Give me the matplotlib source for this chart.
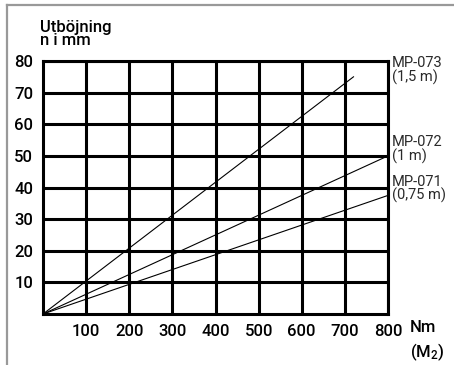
import matplotlib
matplotlib.use("Agg")
import matplotlib.pyplot as plt
from matplotlib.lines import Line2D

# Data
x_ticks = [100, 200, 300, 400, 500, 600, 700, 800]
y_ticks = [10, 20, 30, 40, 50, 60, 70, 80]
series_names = ["MP-073\n(1,5 m)", "MP-072\n(1 m)", "MP-071\n(0,75 m)"]
end_moment = [720, 800, 800]      # Nm
end_deflection = [75, 50, 37.5]   # mm

plt.rcParams["font.family"] = ["Roboto", "DejaVu Sans"]
plt.rcParams["mathtext.default"] = "regular"
plt.rcParams["mathtext.fontset"] = "custom"
plt.rcParams["mathtext.rm"] = "Roboto:medium"

fig = plt.figure(figsize=(4.54, 3.65), dpi=100)
ax = fig.add_axes([43 / 454, 51 / 365, 345 / 454, 253 / 365])

for name, mx, dy in zip(series_names, end_moment, end_deflection):
    ax.plot([0, mx], [0, dy], color="black", linewidth=0.8, zorder=3)
    ax.annotate(name, xy=(1.0, dy + 2), xycoords=("axes fraction", "data"),
                xytext=(3, 0), textcoords="offset points", ha="left", va="center",
                fontsize=10.5, color="#2a2a2a", linespacing=0.9,
                annotation_clip=False)

ax.set_xlim(0, 800)
ax.set_ylim(0, 80)
ax.set_xticks(x_ticks)
ax.set_xticklabels([str(v) for v in x_ticks], fontweight="medium", fontsize=12)
ax.set_yticks(y_ticks)
ax.set_yticklabels([str(v) for v in y_ticks], fontweight="medium", fontsize=12)
ax.tick_params(length=0, pad=7, colors="black")
ax.grid(True, color="black", linewidth=2.2)
for sp in ax.spines.values():
    sp.set_linewidth(2.2)
    sp.set_color("black")

fig.text(40 / 454, 1 - 34 / 365, "Utböjning\nn i mm", ha="left", va="center",
         fontsize=12, fontweight="medium", linespacing=0.8)
fig.text(410 / 454, 1 - 328 / 365, "Nm", ha="left", va="center", fontsize=12,
         fontweight="medium")
fig.text(410 / 454, 1 - 352 / 365, r"(M$_2$)", ha="left", va="center", fontsize=12,
         fontweight="medium")

# grey frame along top and left edge
fig.add_artist(Line2D([7 / 454, 7 / 454], [0, 1 - 5 / 365], transform=fig.transFigure,
                      color="#999999", linewidth=1.6))
fig.add_artist(Line2D([7 / 454, 1], [1 - 5 / 365, 1 - 5 / 365], transform=fig.transFigure,
                      color="#999999", linewidth=1.6))

fig.savefig("out.png", dpi=100)
